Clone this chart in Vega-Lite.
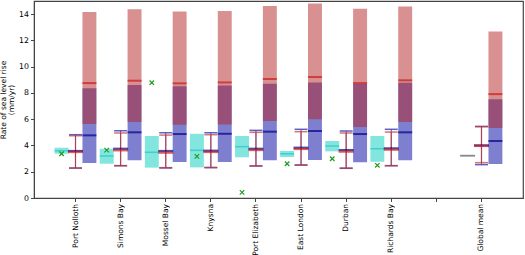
{
  "$schema": "https://vega.github.io/schema/vega-lite/v6.json",
  "autosize": {"type": "none"},
  "padding": {"left": 34, "top": 1, "right": 2, "bottom": 57},
  "width": 489,
  "height": 197,
  "config": {
    "font": "DejaVu Sans",
    "view": {"stroke": "#444", "strokeWidth": 1.2},
    "axis": {"grid": false, "domainColor": "#444", "tickColor": "#444", "labelColor": "black", "labelFontSize": 7.5, "tickSize": 3.5, "titleFontSize": 7.5, "titleFontWeight": "normal", "titleColor": "black", "labelOverlap": false},
    "axisY": {"tickCount": 8, "labelFontSize": 7.8, "labelPadding": 2, "titlePadding": 3, "titleLineHeight": 8.5}
  },
  "data": {"values": [
    {"site": "Port Nolloth", "ob_lo": 3.37, "ob_hi": 3.83, "ob_mid": 3.60, "tg": 3.37, "er_lo": 2.28, "er_hi": 4.74, "er_mid": 3.50, "eb_lo": 2.28, "eb_hi": 4.82, "eb_mid": 3.58, "br_lo": 5.63, "br_hi": 14.16, "br_mid": 8.75, "bb_lo": 2.66, "bb_hi": 8.35, "bb_mid": 4.77},
    {"site": "Simons Bay", "ob_lo": 2.61, "ob_hi": 3.75, "ob_mid": 3.20, "tg": 3.65, "er_lo": 2.46, "er_hi": 4.95, "er_mid": 3.63, "eb_lo": 2.46, "eb_hi": 5.12, "eb_mid": 3.75, "br_lo": 5.78, "br_hi": 14.38, "br_mid": 8.93, "bb_lo": 2.87, "bb_hi": 8.60, "bb_mid": 5.00},
    {"site": "Mossel Bay", "ob_lo": 2.31, "ob_hi": 4.72, "ob_mid": 3.48, "tg": 8.78, "er_lo": 2.31, "er_hi": 4.79, "er_mid": 3.45, "eb_lo": 2.29, "eb_hi": 4.97, "eb_mid": 3.58, "br_lo": 5.58, "br_hi": 14.20, "br_mid": 8.73, "bb_lo": 2.74, "bb_hi": 8.50, "bb_mid": 4.87},
    {"site": "Knysna", "ob_lo": 2.33, "ob_hi": 4.89, "ob_mid": 3.63, "tg": 3.17, "er_lo": 2.33, "er_hi": 4.82, "er_mid": 3.50, "eb_lo": 2.31, "eb_hi": 4.97, "eb_mid": 3.60, "br_lo": 5.60, "br_hi": 14.23, "br_mid": 8.80, "bb_lo": 2.74, "bb_hi": 8.57, "bb_mid": 4.89},
    {"site": "Port Elizabeth", "ob_lo": 3.10, "ob_hi": 4.72, "ob_mid": 3.91, "tg": 0.43, "er_lo": 2.44, "er_hi": 5.00, "er_mid": 3.65, "eb_lo": 2.44, "eb_hi": 5.15, "eb_mid": 3.75, "br_lo": 5.86, "br_hi": 14.61, "br_mid": 9.06, "bb_lo": 2.87, "bb_hi": 8.70, "bb_mid": 5.05},
    {"site": "East London", "ob_lo": 3.12, "ob_hi": 3.58, "ob_mid": 3.37, "tg": 2.61, "er_lo": 2.51, "er_hi": 5.05, "er_mid": 3.73, "eb_lo": 2.51, "eb_hi": 5.23, "eb_mid": 3.83, "br_lo": 5.99, "br_hi": 14.81, "br_mid": 9.21, "bb_lo": 2.89, "bb_hi": 8.80, "bb_mid": 5.10},
    {"site": "Durban", "ob_lo": 3.55, "ob_hi": 4.34, "ob_mid": 3.96, "tg": 2.99, "er_lo": 2.28, "er_hi": 4.95, "er_mid": 3.53, "eb_lo": 2.26, "eb_hi": 5.10, "eb_mid": 3.65, "br_lo": 5.40, "br_hi": 14.41, "br_mid": 8.75, "bb_lo": 2.72, "bb_hi": 8.68, "bb_mid": 4.87},
    {"site": "Richards Bay", "ob_lo": 2.76, "ob_hi": 4.72, "ob_mid": 3.75, "tg": 2.49, "er_lo": 2.46, "er_hi": 5.02, "er_mid": 3.68, "eb_lo": 2.46, "eb_hi": 5.23, "eb_mid": 3.78, "br_lo": 5.78, "br_hi": 14.58, "br_mid": 8.96, "bb_lo": 2.87, "bb_hi": 8.78, "bb_mid": 5.00},
    {"site": "Global mean", "gm": 3.22, "er_lo": 2.69, "er_hi": 5.43, "er_mid": 3.96, "eb_lo": 2.54, "eb_hi": 5.45, "eb_mid": 4.01, "br_lo": 5.33, "br_hi": 12.68, "br_mid": 7.91, "bb_lo": 2.59, "bb_hi": 7.51, "bb_mid": 4.34}
  ]},
  "encoding": {
    "x": {"field": "site", "type": "nominal", "sort": null,
      "scale": {"domain": ["Port Nolloth", "Simons Bay", "Mossel Bay", "Knysna", "Port Elizabeth", "East London", "Durban", "Richards Bay", " ", "Global mean"], "paddingInner": 0, "paddingOuter": 0.42},
      "axis": {"title": null, "labelAngle": -90, "labelPadding": 2}}
  },
  "layer": [
    {"mark": {"type": "bar", "color": "#40d8cc", "opacity": 0.65},
     "encoding": {"xOffset": {"datum": "obs", "scale": {"domain": ["obs", "err", "bar"], "paddingInner": 0, "paddingOuter": 0.12}},
       "y": {"field": "ob_lo", "type": "quantitative", "scale": {"domain": [0, 15], "nice": false}, "axis": {"title": ["Rate of sea level rise", "(mm/yr)"], "values": [0, 2, 4, 6, 8, 10, 12, 14]}},
       "y2": {"field": "ob_hi"}}},
    {"mark": {"type": "tick", "color": "#22c4c4", "thickness": 1.5, "size": 14},
     "encoding": {"xOffset": {"datum": "obs"}, "y": {"field": "ob_mid", "type": "quantitative", "axis": {"title": ["Rate of sea level rise", "(mm/yr)"], "values": [0, 2, 4, 6, 8, 10, 12, 14]}}}},
    {"mark": {"type": "tick", "color": "#555555", "thickness": 1.8, "size": 15},
     "encoding": {"xOffset": {"datum": "obs"}, "y": {"field": "gm", "type": "quantitative"}}},
    {"mark": {"type": "point", "shape": "M-1,-1L1,1M-1,1L1,-1", "filled": false, "color": "#1f9a1f", "size": 20, "strokeWidth": 1.2, "opacity": 1},
     "encoding": {"xOffset": {"datum": "obs"}, "y": {"field": "tg", "type": "quantitative"}}},
    {"mark": {"type": "rule", "color": "#2020a0", "strokeWidth": 1, "opacity": 0.7},
     "encoding": {"xOffset": {"datum": "err"}, "y": {"field": "eb_lo", "type": "quantitative"}, "y2": {"field": "eb_hi"}}},
    {"mark": {"type": "rule", "color": "#c03a3a", "strokeWidth": 1.3, "opacity": 0.75},
     "encoding": {"xOffset": {"datum": "err"}, "y": {"field": "er_lo", "type": "quantitative"}, "y2": {"field": "er_hi"}}},
    {"mark": {"type": "tick", "color": "#2a2ab0", "thickness": 1.5, "size": 13, "opacity": 0.75},
     "encoding": {"xOffset": {"datum": "err"}, "y": {"field": "eb_hi", "type": "quantitative"}}},
    {"mark": {"type": "tick", "color": "#2a2ab0", "thickness": 1.5, "size": 13, "opacity": 0.75},
     "encoding": {"xOffset": {"datum": "err"}, "y": {"field": "eb_lo", "type": "quantitative"}}},
    {"mark": {"type": "tick", "color": "#c03a3a", "thickness": 1.5, "size": 13, "opacity": 0.7},
     "encoding": {"xOffset": {"datum": "err"}, "y": {"field": "er_hi", "type": "quantitative"}}},
    {"mark": {"type": "tick", "color": "#c03a3a", "thickness": 1.5, "size": 13, "opacity": 0.7},
     "encoding": {"xOffset": {"datum": "err"}, "y": {"field": "er_lo", "type": "quantitative"}}},
    {"mark": {"type": "tick", "color": "#00008b", "thickness": 2.2, "size": 15},
     "encoding": {"xOffset": {"datum": "err"}, "y": {"field": "eb_mid", "type": "quantitative"}}},
    {"mark": {"type": "tick", "color": "#d01818", "thickness": 2.2, "size": 15},
     "encoding": {"xOffset": {"datum": "err"}, "y": {"field": "er_mid", "type": "quantitative"}}},
    {"mark": {"type": "bar", "color": "#0000a0", "opacity": 0.5},
     "encoding": {"xOffset": {"datum": "bar"}, "y": {"field": "bb_lo", "type": "quantitative"}, "y2": {"field": "bb_hi"}}},
    {"mark": {"type": "bar", "color": "#b22222", "opacity": 0.5},
     "encoding": {"xOffset": {"datum": "bar"}, "y": {"field": "br_lo", "type": "quantitative"}, "y2": {"field": "br_hi"}}},
    {"mark": {"type": "tick", "color": "#00008b", "thickness": 2, "size": 14},
     "encoding": {"xOffset": {"datum": "bar"}, "y": {"field": "bb_mid", "type": "quantitative"}}},
    {"mark": {"type": "tick", "color": "#cc1a1a", "thickness": 2, "size": 14},
     "encoding": {"xOffset": {"datum": "bar"}, "y": {"field": "br_mid", "type": "quantitative"}}}
  ]
}
